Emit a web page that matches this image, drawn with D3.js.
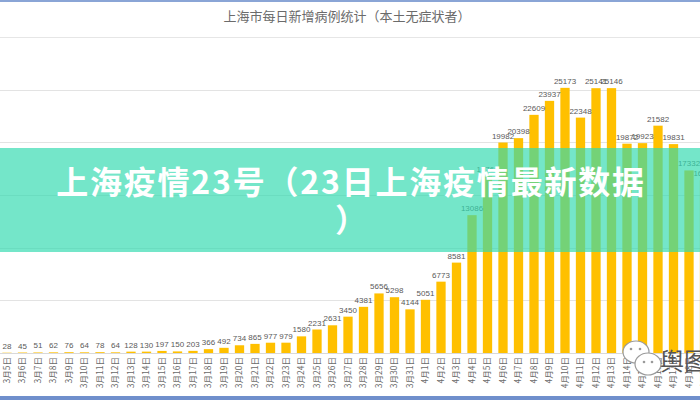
<!DOCTYPE html>
<html>
<head>
<meta charset="utf-8">
<script src="https://cdn.jsdelivr.net/npm/d3@7/dist/d3.min.js"></script>
<style>
  html, body { margin: 0; padding: 0; background: #fff; }
  svg { display: block; }
</style>
</head>
<body>
<svg id="chart" width="700" height="400"></svg>
<script>
const chartTitle = "上海市每日新增病例统计（本土无症状者）";
const bannerLine1 = "上海疫情23号（23日上海疫情最新数据";
const bannerLine2 = "）";
const dates = [
  "3月5日","3月6日","3月7日","3月8日","3月9日","3月10日","3月11日","3月12日","3月13日","3月14日",
  "3月15日","3月16日","3月17日","3月18日","3月19日","3月20日","3月21日","3月22日","3月23日","3月24日",
  "3月25日","3月26日","3月27日","3月28日","3月29日","3月30日","3月31日",
  "4月1日","4月2日","4月3日","4月4日","4月5日","4月6日","4月7日","4月8日","4月9日","4月10日",
  "4月11日","4月12日","4月13日","4月14日","4月15日","4月16日","4月17日","4月18日","4月19日"
];
const cases = [
  28,45,51,62,76,64,78,64,128,130,
  197,150,203,366,492,734,865,977,979,1580,
  2231,2631,3450,4381,5656,5298,4144,
  5051,6773,8581,13086,16766,19982,20398,22609,23937,25173,
  22348,25141,25146,19872,19923,21582,19831,17332,16407
];
const yTicks = [5000,10000,15000,20000,25000,30000];

const svg = d3.select("#chart");
const W = 700, H = 400;

svg.append("rect").attr("width", W).attr("height", H).attr("fill", "#fff");

const x = d3.scaleBand().domain(dates).range([-0.75, 712.25]).paddingInner(0.4).paddingOuter(0.2);
const y = d3.scaleLinear().domain([0, 30000]).range([353, 37]);

// gridlines
svg.append("g").selectAll("line").data(yTicks).join("line")
  .attr("x1", 0).attr("x2", W)
  .attr("y1", d => Math.round(y(d)) + 0.5).attr("y2", d => Math.round(y(d)) + 0.5)
  .attr("stroke", "#e3e3e3").attr("stroke-width", 1);

// bars
svg.append("g").selectAll("rect").data(cases).join("rect")
  .attr("x", (d, i) => x(dates[i]))
  .attr("width", x.bandwidth())
  .attr("y", d => y(d))
  .attr("height", d => y(0) - y(d))
  .attr("fill", "#FFC000");

// baseline axis
const xAxis = d3.axisBottom(x).tickSize(0).tickPadding(0);
const gx = svg.append("g").attr("transform", `translate(0,${y(0)})`).call(xAxis);
gx.select(".domain").attr("stroke", "#d9d9d9");
gx.selectAll(".tick text")
  .attr("transform", "rotate(-90)")
  .attr("text-anchor", "end")
  .attr("x", -4).attr("y", 0).attr("dy", "0.32em")
  .attr("fill", "#6a6a6a")
  .style("font-family", "'Noto Sans CJK SC', sans-serif")
  .style("font-size", "8.5px");

// value labels
svg.append("g").selectAll("text").data(cases).join("text")
  .attr("x", (d, i) => x(dates[i]) + x.bandwidth() / 2)
  .attr("y", d => y(d) - 4)
  .attr("text-anchor", "middle")
  .attr("fill", "#595959")
  .style("font-family", "'Liberation Sans', Arial, sans-serif")
  .style("font-size", "8px")
  .text(d => d);

// title
svg.append("line").attr("x1", 0).attr("x2", W).attr("y1", 37.5).attr("y2", 37.5)
  .attr("stroke", "#e6e6e6");
svg.append("text").attr("x", 347).attr("y", 21).attr("text-anchor", "middle")
  .attr("fill", "#6b6b6b")
  .style("font-family", "'Noto Sans CJK SC', sans-serif")
  .style("font-size", "13px")
  .text(chartTitle);

// frame lines
svg.append("rect").attr("x", 0).attr("y", 0).attr("width", W).attr("height", 2).attr("fill", "#8aa5d6");
svg.append("rect").attr("x", 0).attr("y", 396).attr("width", W).attr("height", 4).attr("fill", "#6f8fcc");

// watermark
const wm = svg.append("g").attr("fill", "#fff").attr("stroke", "#9a9a9a").attr("stroke-width", 1.2);
wm.append("ellipse").attr("cx", 636).attr("cy", 352).attr("rx", 13).attr("ry", 11);
wm.append("ellipse").attr("cx", 648).attr("cy", 364).attr("rx", 13).attr("ry", 11);
svg.append("g").attr("fill", "#9a9a9a").selectAll("circle")
  .data([[631, 349], [640, 349], [644, 362], [652, 362]]).join("circle")
  .attr("cx", d => d[0]).attr("cy", d => d[1]).attr("r", 1.3);
svg.append("text").attr("x", 660).attr("y", 370)
  .attr("fill", "#555")
  .style("font-family", "'Noto Sans CJK SC', sans-serif")
  .style("font-size", "24px")
  .text("舆图");

// banner overlay
svg.append("rect").attr("x", 0).attr("y", 148).attr("width", W).attr("height", 104)
  .attr("fill", "rgb(50,218,176)").attr("fill-opacity", 0.68);
svg.append("text").attr("x", 351).attr("y", 194).attr("text-anchor", "middle")
  .attr("fill", "#fff")
  .style("font-family", "'Noto Sans CJK SC', sans-serif")
  .style("font-weight", "bold")
  .style("font-size", "32px")
  .style("letter-spacing", "1.8px")
  .text(bannerLine1);
svg.append("text").attr("x", 351).attr("y", 232).attr("text-anchor", "middle")
  .attr("fill", "#fff")
  .style("font-family", "'Noto Sans CJK SC', sans-serif")
  .style("font-weight", "bold")
  .style("font-size", "32px")
  .text(bannerLine2);
</script>
</body>
</html>
